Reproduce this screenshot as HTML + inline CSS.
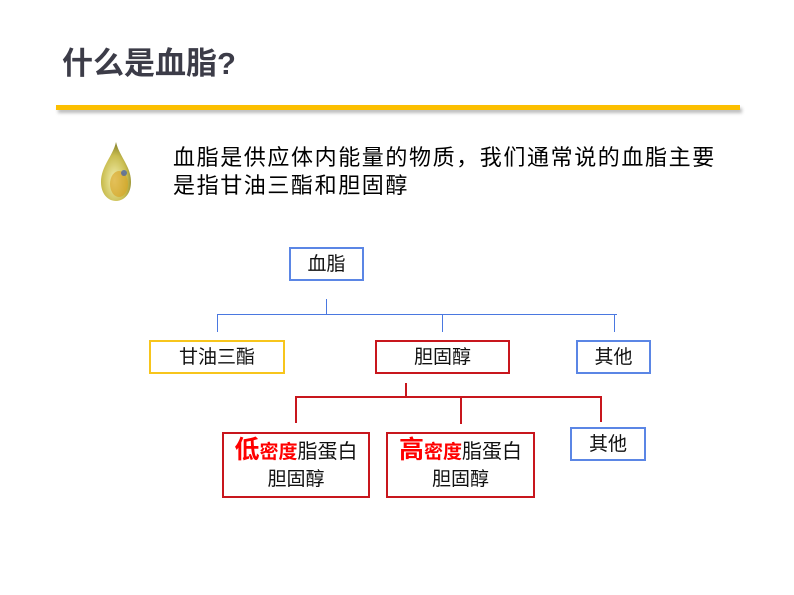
<!DOCTYPE html>
<html><head><meta charset="utf-8"><style>
body{margin:0;width:794px;height:595px;background:#fff;position:relative;overflow:hidden;font-family:"Liberation Sans","Noto Sans CJK SC",sans-serif;}
.a{position:absolute;}
.box{position:absolute;box-sizing:border-box;border:2px solid;display:flex;align-items:center;justify-content:center;font-size:19px;color:#111;text-align:center;line-height:27px;}
.bl{border-color:#5b86e5}.rd{border-color:#c8161d}.ye{border-color:#f7c51c}
.l{position:absolute;}
.b{background:#4a78e0}.r{background:#c8161d}
.red{color:#f00;font-weight:bold}
</style></head><body>
<div class="a" style="left:62px;top:38px;font-size:31px;font-weight:bold;color:#3c3c48;">什么是血脂?</div>
<div class="a" style="left:58px;top:108px;width:684px;height:5px;background:#bbb;filter:blur(1.5px);"></div>
<div class="a" style="left:56px;top:105px;width:684px;height:5px;background:#fcbf00;"></div>
<svg class="a" style="left:98px;top:140px" width="36" height="64" viewBox="0 0 36 64">
<defs><radialGradient id="g" cx="0.45" cy="0.65" r="0.6"><stop offset="0" stop-color="#f4f0b0"/><stop offset="0.7" stop-color="#c9bd50"/><stop offset="1" stop-color="#8f8a30"/></radialGradient></defs>
<path d="M18 2 C15 16 3 26 3 42 C3 54 10 61 18 61 C26 61 33 54 33 42 C33 26 21 16 18 2Z" fill="url(#g)"/>
<ellipse cx="21" cy="44" rx="9" ry="13" fill="#d9a020" opacity="0.6"/>
<circle cx="26" cy="33" r="3" fill="#3a5ab0" opacity="0.7"/>
</svg>
<div class="a" style="left:173px;top:144px;font-size:22px;letter-spacing:1.6px;line-height:28px;color:#000;white-space:nowrap;">血脂是供应体内能量的物质，我们通常说的血脂主要<br>是指甘油三酯和胆固醇</div>

<div class="box bl" style="left:289px;top:247px;width:75px;height:34px;">血脂</div>
<div class="l b" style="left:326px;top:299px;width:1px;height:16px"></div>
<div class="l b" style="left:217px;top:314px;width:400px;height:1px"></div>
<div class="l b" style="left:217px;top:314px;width:1px;height:18px"></div>
<div class="l b" style="left:442px;top:314px;width:1px;height:18px"></div>
<div class="l b" style="left:614px;top:314px;width:1px;height:18px"></div>

<div class="box ye" style="left:149px;top:340px;width:136px;height:34px;">甘油三酯</div>
<div class="box rd" style="left:375px;top:340px;width:135px;height:34px;">胆固醇</div>
<div class="box bl" style="left:576px;top:340px;width:75px;height:34px;">其他</div>

<div class="l r" style="left:405px;top:383px;width:2px;height:15px"></div>
<div class="l r" style="left:295px;top:396px;width:307px;height:2px"></div>
<div class="l r" style="left:295px;top:396px;width:2px;height:27px"></div>
<div class="l r" style="left:460px;top:398px;width:2px;height:26px"></div>
<div class="l r" style="left:600px;top:396px;width:2px;height:26px"></div>

<div class="box rd" style="left:222px;top:432px;width:148px;height:66px;"><div style="white-space:nowrap"><span class="red" style="font-size:25px">低</span><span class="red" style="font-size:19px">密度</span><span style="font-size:20px">脂蛋白</span><br>胆固醇</div></div>
<div class="box rd" style="left:386px;top:432px;width:149px;height:66px;"><div style="white-space:nowrap"><span class="red" style="font-size:25px">高</span><span class="red" style="font-size:19px">密度</span><span style="font-size:20px">脂蛋白</span><br>胆固醇</div></div>
<div class="box bl" style="left:570px;top:427px;width:76px;height:34px;">其他</div>
</body></html>
